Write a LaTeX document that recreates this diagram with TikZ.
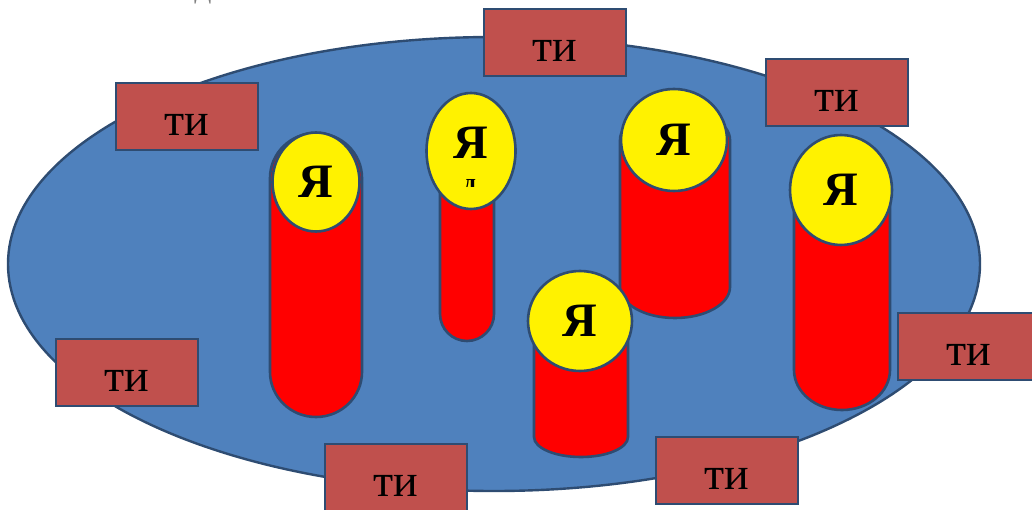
\documentclass[tikz,border=0pt]{standalone}
\usepackage{fontspec}
\setmainfont{Liberation Serif}
\usetikzlibrary{shapes.geometric}
\usetikzlibrary{positioning}
\definecolor{cellblue}{HTML}{4F81BD}
\definecolor{edgeblue}{HTML}{2E4C72}
\definecolor{boxred}{HTML}{C0504D}
\tikzset{
  ti_style/.style = {
    rectangle, draw = edgeblue, line width = 2.2pt, fill = boxred, inner sep = 0pt,
    minimum width = 142pt, minimum height = 67pt, text height = 38pt, text depth = 0pt,
    font = \fontsize{46}{50}\selectfont}
}
\begin{document}
\begin{tikzpicture}[x=1pt,y=1pt,
cyl_style/.style={draw=edgeblue, line width=2.6pt, fill=red},
ya_style/.style={ellipse, draw=edgeblue, line width=2.6pt, fill=yellow, inner sep=0pt,
  font=\fontsize{48}{52}\selectfont\bfseries}]
\useasboundingbox (0,0) rectangle (1032,509);

% cell
\draw[draw=edgeblue, line width=2.4pt, fill=cellblue] (494,245) ellipse [x radius=486pt, y radius=227pt];

% labels
\foreach \x/\y/\n in {187/392.5/1,555/466.5/2,837/416.5/3,969/162.5/4,127/136.5/5,396/31.5/6,727/38.5/7}{
 \node[ti_style] (t\n) at (\x,\y) {ти};
}

% cylinders
\foreach \cx/\rx/\ry/\yt/\yb in {316/46/45/331/137,467/27/27/374/195,675/55/31/369/222,842/48/40/319/139,581/47/20/189/72}{
 \draw[cyl_style] (\cx-\rx,\yt) -- (\cx-\rx,\yb) arc (180:360:\rx pt and \ry pt)
   -- (\cx+\rx,\yt) arc (0:180:\rx pt and \ry pt) -- cycle;
}

\node[ya_style, minimum width=87pt, minimum height=99pt] (y1) at (316,327) {Я};
\node[ya_style, minimum width=89pt, minimum height=116pt, text depth=16pt] (y2) at (471,358) {Я};
\node[ya_style, minimum width=106pt, minimum height=102pt] (y3) at (674,369) {Я};
\node[ya_style, minimum width=102pt, minimum height=110pt] (y4) at (841,319) {Я};
\node[ya_style, minimum width=104pt, minimum height=100pt] (y5) at (580,188) {Я};

% cut off text
\begin{scope}
\clip (455,322) rectangle (485,332);
\node[anchor=base, inner sep=0pt, font=\fontsize{24}{28}\selectfont\bfseries] (d2) at (470,318) {д};
\end{scope}
\node[anchor=base, inner sep=0pt, text=gray, font=\fontsize{34}{40}\selectfont] (d1) at (203,511) {д};
\end{tikzpicture}
\end{document}
